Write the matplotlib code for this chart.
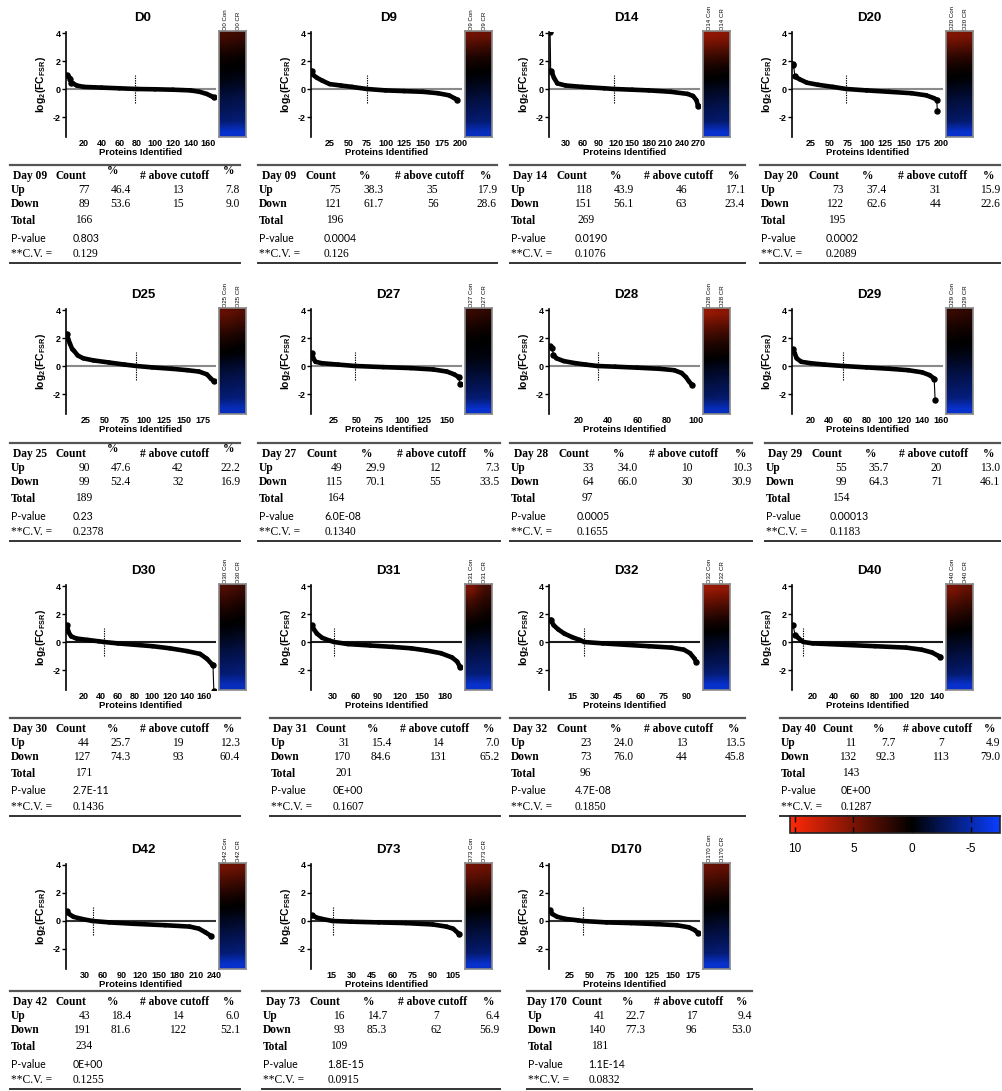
import numpy as np
import matplotlib
matplotlib.use('Agg')
import matplotlib.pyplot as plt
from matplotlib.colors import LinearSegmentedColormap, Normalize
from matplotlib.collections import LineCollection
from matplotlib.cm import ScalarMappable

plt.rcParams['font.family'] = ['Liberation Sans', 'DejaVu Sans']
plt.rcParams['mathtext.fontset'] = 'custom'
plt.rcParams['mathtext.bf'] = 'Liberation Sans:bold'
plt.rcParams['mathtext.rm'] = 'Liberation Sans'
plt.rcParams['mathtext.it'] = 'Liberation Sans:italic'

# ---------------- data ----------------
panel_names = ['D0', 'D9', 'D14', 'D20', 'D25', 'D27', 'D28', 'D29',
               'D30', 'D31', 'D32', 'D40', 'D42', 'D73', 'D170']
tick_steps = [20, 25, 30, 25, 25, 25, 20, 20, 20, 30, 15, 20, 30, 15, 25]
tick_max = [160, 200, 270, 200, 175, 150, 100, 160, 160, 180, 90, 140, 240, 105, 175]

# sorted log2 fold change curves, read at selected protein ranks
curve_rank = {
    'D0':   [1, 3, 5, 6, 8, 12, 20, 40, 60, 80, 100, 120, 140, 150, 158, 163, 166],
    'D9':   [1, 3, 8, 15, 25, 40, 55, 75, 100, 125, 150, 170, 185, 192, 196],
    'D14':  [1, 2, 3, 6, 9, 15, 30, 60, 100, 118, 150, 180, 220, 250, 260, 266, 269],
    'D20':  [1, 2, 4, 10, 20, 35, 55, 73, 100, 130, 160, 180, 190, 194, 195],
    'D25':  [1, 3, 5, 8, 10, 15, 22, 35, 55, 75, 90, 110, 135, 155, 170, 180, 185, 189],
    'D27':  [1, 3, 5, 12, 30, 49, 80, 110, 135, 150, 158, 163, 164],
    'D28':  [1, 2, 3, 5, 10, 18, 25, 33, 45, 60, 75, 85, 90, 93, 95, 97],
    'D29':  [1, 3, 5, 10, 20, 35, 55, 80, 105, 125, 140, 148, 152, 153, 154],
    'D30':  [1, 3, 6, 12, 25, 38, 44, 60, 80, 100, 120, 140, 155, 163, 169, 170, 171],
    'D31':  [1, 4, 8, 15, 25, 31, 50, 80, 110, 135, 155, 175, 190, 197, 201],
    'D32':  [1, 3, 6, 10, 15, 20, 23, 35, 50, 65, 80, 88, 92, 95, 96],
    'D40':  [1, 3, 6, 9, 11, 20, 50, 80, 110, 125, 135, 140, 143],
    'D42':  [1, 5, 12, 25, 43, 70, 110, 160, 200, 215, 225, 234],
    'D73':  [1, 4, 8, 16, 30, 50, 70, 90, 100, 105, 109],
    'D170': [1, 4, 10, 20, 35, 41, 70, 100, 130, 155, 170, 177, 181],
}
curve_fc = {
    'D0':   [1.0, 0.9, 0.75, 0.45, 0.4, 0.25, 0.15, 0.1, 0.05, 0.0, -0.02, -0.05, -0.1, -0.2, -0.35, -0.5, -0.6],
    'D9':   [1.3, 1.0, 0.8, 0.6, 0.35, 0.25, 0.15, 0.0, -0.1, -0.15, -0.2, -0.3, -0.45, -0.65, -0.75],
    'D14':  [4.2, 4.1, 1.3, 1.1, 0.8, 0.4, 0.25, 0.15, 0.05, 0.0, -0.05, -0.1, -0.2, -0.35, -0.5, -0.8, -1.2],
    'D20':  [1.8, 1.7, 0.9, 0.7, 0.45, 0.3, 0.15, 0.0, -0.1, -0.2, -0.3, -0.45, -0.65, -0.75, -1.6],
    'D25':  [2.3, 1.9, 1.6, 1.2, 1.1, 0.75, 0.55, 0.4, 0.25, 0.1, 0.0, -0.1, -0.2, -0.3, -0.4, -0.6, -0.9, -1.1],
    'D27':  [0.9, 0.5, 0.3, 0.2, 0.1, 0.0, -0.08, -0.15, -0.25, -0.4, -0.6, -0.8, -1.3],
    'D28':  [1.4, 1.3, 0.8, 0.55, 0.35, 0.2, 0.1, 0.0, -0.05, -0.12, -0.2, -0.3, -0.5, -0.8, -1.1, -1.35],
    'D29':  [1.2, 0.9, 0.55, 0.3, 0.2, 0.1, 0.0, -0.1, -0.2, -0.3, -0.45, -0.65, -0.85, -0.9, -2.4],
    'D30':  [1.2, 0.7, 0.4, 0.25, 0.15, 0.05, 0.0, -0.1, -0.2, -0.3, -0.45, -0.65, -0.85, -1.2, -1.6, -1.65, -3.5],
    'D31':  [1.2, 0.9, 0.6, 0.3, 0.1, 0.0, -0.15, -0.25, -0.35, -0.45, -0.6, -0.8, -1.1, -1.4, -1.8],
    'D32':  [1.6, 1.2, 0.9, 0.6, 0.35, 0.15, 0.0, -0.1, -0.2, -0.3, -0.4, -0.55, -0.8, -1.2, -1.4],
    'D40':  [1.2, 0.5, 0.3, 0.1, 0.0, -0.1, -0.2, -0.3, -0.4, -0.55, -0.75, -0.95, -1.05],
    'D42':  [0.7, 0.5, 0.3, 0.15, 0.0, -0.1, -0.2, -0.3, -0.4, -0.55, -0.8, -1.05],
    'D73':  [0.4, 0.25, 0.15, 0.0, -0.05, -0.1, -0.15, -0.25, -0.4, -0.55, -0.9],
    'D170': [0.75, 0.5, 0.3, 0.15, 0.05, 0.0, -0.1, -0.15, -0.22, -0.3, -0.45, -0.65, -0.85],
}

# heat-map strips (Con, CR), values top to bottom on the colour scale
heat_con = {
    'D0':   [2.8, 1.6, 0.5, 0.0, -0.4, -1.2, -2.0, -2.6, -3.3, -6.0],
    'D9':   [4.5, 2.8, 1.2, 0.3, -0.3, -1.0, -1.8, -2.5, -3.2, -5.5],
    'D14':  [5.8, 4.0, 2.2, 0.8, 0.0, -0.8, -1.6, -2.4, -3.0, -6.0],
    'D20':  [5.2, 3.5, 1.8, 0.6, 0.0, -0.8, -1.6, -2.3, -3.0, -6.0],
    'D25':  [4.0, 2.8, 1.5, 0.5, -0.2, -1.2, -2.0, -2.7, -3.4, -5.5],
    'D27':  [2.2, 1.2, 0.4, 0.0, -0.3, -0.9, -1.7, -2.5, -3.3, -6.0],
    'D28':  [6.0, 4.2, 2.6, 1.2, 0.3, -0.6, -1.4, -2.2, -3.0, -5.5],
    'D29':  [2.2, 1.2, 0.5, 0.0, -0.6, -1.4, -2.2, -2.9, -3.6, -6.0],
    'D30':  [3.2, 2.0, 1.0, 0.2, -0.4, -1.2, -2.0, -2.7, -3.4, -5.5],
    'D31':  [5.0, 3.0, 1.6, 0.5, -0.3, -1.2, -2.0, -2.8, -3.5, -6.0],
    'D32':  [6.2, 4.4, 2.6, 1.0, 0.0, -0.8, -1.6, -2.4, -3.4, -6.0],
    'D40':  [5.0, 3.6, 2.2, 1.0, 0.0, -0.8, -1.6, -2.4, -3.2, -6.0],
    'D42':  [4.6, 3.2, 1.8, 0.6, -0.2, -1.0, -1.8, -2.6, -3.4, -6.0],
    'D73':  [4.6, 3.4, 2.0, 0.8, 0.0, -0.8, -1.6, -2.4, -3.2, -6.0],
    'D170': [4.2, 3.0, 1.7, 0.6, -0.1, -0.9, -1.7, -2.5, -3.3, -6.0],
}
heat_cr = {
    'D0':   [2.4, 1.3, 0.3, -0.1, -0.6, -1.4, -2.2, -2.8, -3.5, -6.0],
    'D9':   [4.2, 2.5, 1.0, 0.2, -0.4, -1.2, -2.0, -2.7, -3.4, -5.5],
    'D14':  [5.5, 3.8, 2.0, 0.6, -0.1, -1.0, -1.8, -2.6, -3.2, -6.0],
    'D20':  [5.0, 3.3, 1.6, 0.5, -0.2, -1.0, -1.8, -2.5, -3.2, -6.0],
    'D25':  [3.4, 2.2, 1.0, 0.2, -0.4, -1.4, -2.2, -2.9, -3.6, -5.5],
    'D27':  [1.8, 0.9, 0.2, -0.1, -0.4, -1.0, -1.8, -2.6, -3.4, -6.0],
    'D28':  [5.6, 3.9, 2.3, 1.0, 0.2, -0.8, -1.6, -2.4, -3.2, -5.5],
    'D29':  [1.8, 1.0, 0.3, -0.1, -0.7, -1.5, -2.3, -3.0, -3.7, -6.0],
    'D30':  [2.4, 1.4, 0.6, 0.0, -0.6, -1.4, -2.2, -2.9, -3.6, -5.5],
    'D31':  [2.6, 1.6, 0.8, 0.1, -0.5, -1.4, -2.2, -2.9, -3.6, -6.0],
    'D32':  [5.8, 4.0, 2.3, 0.8, -0.1, -1.0, -1.8, -2.6, -3.6, -6.0],
    'D40':  [4.0, 2.8, 1.6, 0.6, -0.2, -1.0, -1.8, -2.6, -3.4, -6.0],
    'D42':  [4.2, 2.8, 1.5, 0.4, -0.3, -1.2, -2.0, -2.8, -3.6, -6.0],
    'D73':  [4.3, 3.1, 1.8, 0.6, -0.1, -1.0, -1.8, -2.6, -3.4, -6.0],
    'D170': [3.9, 2.7, 1.5, 0.4, -0.2, -1.1, -1.9, -2.7, -3.5, -6.0],
}

# summary tables
table_day = ['Day 09', 'Day 09', 'Day 14', 'Day 20', 'Day 25', 'Day 27', 'Day 28', 'Day 29',
             'Day 30', 'Day 31', 'Day 32', 'Day 40', 'Day 42', 'Day 73', 'Day 170']
up_count = [77, 75, 118, 73, 90, 49, 33, 55, 44, 31, 23, 11, 43, 16, 41]
up_pct = ['46.4', '38.3', '43.9', '37.4', '47.6', '29.9', '34.0', '35.7', '25.7', '15.4',
          '24.0', '7.7', '18.4', '14.7', '22.7']
up_above = [13, 35, 46, 31, 42, 12, 10, 20, 19, 14, 13, 7, 14, 7, 17]
up_above_pct = ['7.8', '17.9', '17.1', '15.9', '22.2', '7.3', '10.3', '13.0', '12.3', '7.0',
                '13.5', '4.9', '6.0', '6.4', '9.4']
down_count = [89, 121, 151, 122, 99, 115, 64, 99, 127, 170, 73, 132, 191, 93, 140]
down_pct = ['53.6', '61.7', '56.1', '62.6', '52.4', '70.1', '66.0', '64.3', '74.3', '84.6',
            '76.0', '92.3', '81.6', '85.3', '77.3']
down_above = [15, 56, 63, 44, 32, 55, 30, 71, 93, 131, 44, 113, 122, 62, 96]
down_above_pct = ['9.0', '28.6', '23.4', '22.6', '16.9', '33.5', '30.9', '46.1', '60.4', '65.2',
                  '45.8', '79.0', '52.1', '56.9', '53.0']
totals = [166, 196, 269, 195, 189, 164, 97, 154, 171, 201, 96, 143, 234, 109, 181]
p_values = ['0.803', '0.0004', '0.0190', '0.0002', '0.23', '6.0E-08', '0.0005', '0.00013',
            '2.7E-11', '0E+00', '4.7E-08', '0E+00', '0E+00', '1.8E-15', '1.1E-14']
cvs = ['0.129', '0.126', '0.1076', '0.2089', '0.2378', '0.1340', '0.1655', '0.1183',
       '0.1436', '0.1607', '0.1850', '0.1287', '0.1255', '0.0915', '0.0832']
cbar_ticks = [10, 5, 0, -5]

# ---------------- layout (pixels) ----------------
W, H = 1002, 1091
fig = plt.figure(figsize=(W / 100, H / 100), dpi=100)
bg = fig.add_axes([0, 0, 1, 1])
bg.set_xlim(0, W)
bg.set_ylim(H, 0)
bg.axis('off')


def px_axes(x0, y0, x1, y1):
    return fig.add_axes([x0 / W, 1 - y1 / H, (x1 - x0) / W, (y1 - y0) / H])


col_spine = [66, 311, 549, 792]
col_heat = [219, 465, 703, 946]
row_zero = [89, 366, 642, 921]
zero_col = ['#8a8a8a', '#8a8a8a', '#1a1a1a', '#333333']
tab_lr = [(10, 240), (258, 497), (510, 745), (760, 1000),
          (10, 240), (258, 500), (510, 752), (765, 1000),
          (10, 240), (270, 500), (510, 745), (780, 1000),
          (10, 240), (262, 500), (527, 752)]
tab_top = [165, 443, 718, 991]
YLO, YHI = -3.45, 4.1
PXY = 14.0

cmap = LinearSegmentedColormap.from_list(
    'rb', [(0.0, (0.04, 0.24, 1.0)), (7.5 / 17.9, (0, 0, 0)), (1.0, (1.0, 0.16, 0.03))])
norm = Normalize(-7.5, 10.4)

serif = ['Liberation Serif', 'DejaVu Serif']
sans_p = ['Lato', 'Liberation Sans']
TFS = 8.3

for i, name in enumerate(panel_names):
    r, c = divmod(i, 4)
    z = row_zero[r]
    x0 = col_spine[c]
    hx = col_heat[c]
    x1 = hx - 3
    top = z - YHI * PXY
    bot = z - YLO * PXY
    ax = px_axes(x0, top, x1, bot)
    N = totals[i]
    xmax = max(N, tick_max[i]) + 2.5
    ax.set_xlim(0, xmax)
    ax.set_ylim(YLO, YHI)
    ax.axhline(0, color=zero_col[r], lw=1.5, zorder=1)
    ax.plot([up_count[i], up_count[i]], [-1, 1], ls=(0, (1.2, 1.0)), color='black', lw=0.8, zorder=2)

    xs = np.array(curve_rank[name], float)
    ys = np.array(curve_fc[name], float)
    pxx = (x1 - x0) / xmax
    segs, lws = [], []
    mark = {0, len(xs) - 1}
    for k in range(len(xs) - 1):
        dx = xs[k + 1] - xs[k]
        dy = ys[k + 1] - ys[k]
        step = np.hypot(dx * pxx, dy * PXY) / dx
        segs.append([(xs[k], ys[k]), (xs[k + 1], ys[k + 1])])
        if step < 4:
            lws.append(3.3)
        else:
            lws.append(0.8)
            mark.update({k, k + 1})
    ax.add_collection(LineCollection(segs, linewidths=lws, colors='black',
                                     capstyle='round', joinstyle='round', zorder=3))
    mk = sorted(mark)
    ax.plot(xs[mk], ys[mk], 'o', color='black', ms=3.6, zorder=4)

    for s in ['top', 'right', 'bottom']:
        ax.spines[s].set_visible(False)
    ax.spines['left'].set_linewidth(1.2)
    ax.set_yticks([-2, 0, 2, 4])
    ax.set_yticklabels(['-2', '0', '2', '4'], fontsize=6.5, fontweight='bold')
    ax.tick_params(axis='y', length=3, width=1, pad=1)
    xt = np.arange(tick_steps[i], tick_max[i] + 1, tick_steps[i])
    ax.set_xticks(xt)
    ax.set_xticklabels([str(v) for v in xt], fontsize=6.5, fontweight='bold')
    ax.tick_params(axis='x', length=0, pad=1)
    ax.set_xlabel('Proteins Identified', fontsize=6.8, fontweight='bold', labelpad=0)
    ax.set_ylabel(r'$\mathbf{log_2(FC_{FSR})}$', fontsize=7.5, labelpad=3)
    ax.patch.set_alpha(0)

    bg.text((x0 + x1) / 2 + 2, z - 71, name, ha='center', va='center',
            fontsize=9.5, fontweight='bold')

    # heat strip
    hax = px_axes(hx, z - 58, hx + 27, z + 48)
    hm = np.column_stack([heat_con[name], heat_cr[name]])
    hax.imshow(hm, aspect='auto', cmap=cmap, norm=norm, interpolation='bilinear')
    hax.set_xticks([])
    hax.set_yticks([])
    for s in hax.spines.values():
        s.set_color('#8a8a8a')
        s.set_linewidth(1.2)
    bg.text(hx + 7, z - 59, name + ' Con', rotation=90, ha='center', va='bottom', fontsize=4.4)
    bg.text(hx + 20, z - 59, name + ' CR', rotation=90, ha='center', va='bottom', fontsize=4.4)

    # table
    L, R = tab_lr[i]
    sc = (R - L) / 230.0
    T = tab_top[r]
    bg.plot([L, R], [T, T], color='#555555', lw=1.6)
    bg.plot([L, R], [T + 98, T + 98], color='#333333', lw=1.4)
    yh, yu, yd, yt, yp, yc = T + 11, T + 25, T + 39, T + 56, T + 73, T + 89

    def X(v):
        return L + v * sc

    raise_pct = 5 if name in ('D0', 'D25') else 0
    bg.text(X(20), yh, table_day[i], ha='center', va='center', fontsize=TFS, fontweight='bold', family=serif)
    bg.text(X(61), yh, 'Count', ha='center', va='center', fontsize=TFS, fontweight='bold', family=serif)
    bg.text(X(103), yh - raise_pct, '%', ha='center', va='center', fontsize=TFS, fontweight='bold', family=serif)
    bg.text(X(165), yh, '# above cutoff', ha='center', va='center', fontsize=TFS, fontweight='bold', family=serif)
    bg.text(X(219), yh - raise_pct, '%', ha='center', va='center', fontsize=TFS, fontweight='bold', family=serif)

    for yy, lab, cnt, pc, ab, abp in [(yu, 'Up', up_count[i], up_pct[i], up_above[i], up_above_pct[i]),
                                      (yd, 'Down', down_count[i], down_pct[i], down_above[i], down_above_pct[i])]:
        bg.text(L + 1, yy, lab, ha='left', va='center', fontsize=TFS, fontweight='bold', family=serif)
        bg.text(X(80), yy, str(cnt), ha='right', va='center', fontsize=TFS, family=serif)
        bg.text(X(121), yy, pc, ha='right', va='center', fontsize=TFS, family=serif)
        bg.text(X(168), yy, str(ab), ha='center', va='center', fontsize=TFS, family=serif)
        bg.text(X(230), yy, abp, ha='right', va='center', fontsize=TFS, family=serif)
    bg.text(L + 1, yt, 'Total', ha='left', va='center', fontsize=TFS, fontweight='bold', family=serif)
    bg.text(X(74), yt - 1, str(totals[i]), ha='center', va='center', fontsize=TFS, family=serif)
    bg.text(L + 1, yp, 'P-value', ha='left', va='center', fontsize=7.6, family=sans_p)
    bg.text(X(63), yp, p_values[i], ha='left', va='center', fontsize=7.6, family=sans_p)
    bg.text(L + 1, yc, '**C.V. =', ha='left', va='center', fontsize=TFS, family=serif)
    bg.text(X(63), yc, cvs[i], ha='left', va='center', fontsize=TFS, family=serif)

# colour bar
cax = px_axes(790, 816, 1000, 833)
cb = fig.colorbar(ScalarMappable(norm=norm, cmap=cmap), cax=cax, orientation='horizontal')
cax.invert_xaxis()
cb.set_ticks(cbar_ticks)
cb.set_ticklabels([str(t) for t in cbar_ticks])
cax.tick_params(direction='in', length=4, width=1, top=True, bottom=True, labelsize=8.5, pad=7)
cb.outline.set_linewidth(1.2)
cb.outline.set_edgecolor('#222222')

fig.savefig('out.png', dpi=100)
